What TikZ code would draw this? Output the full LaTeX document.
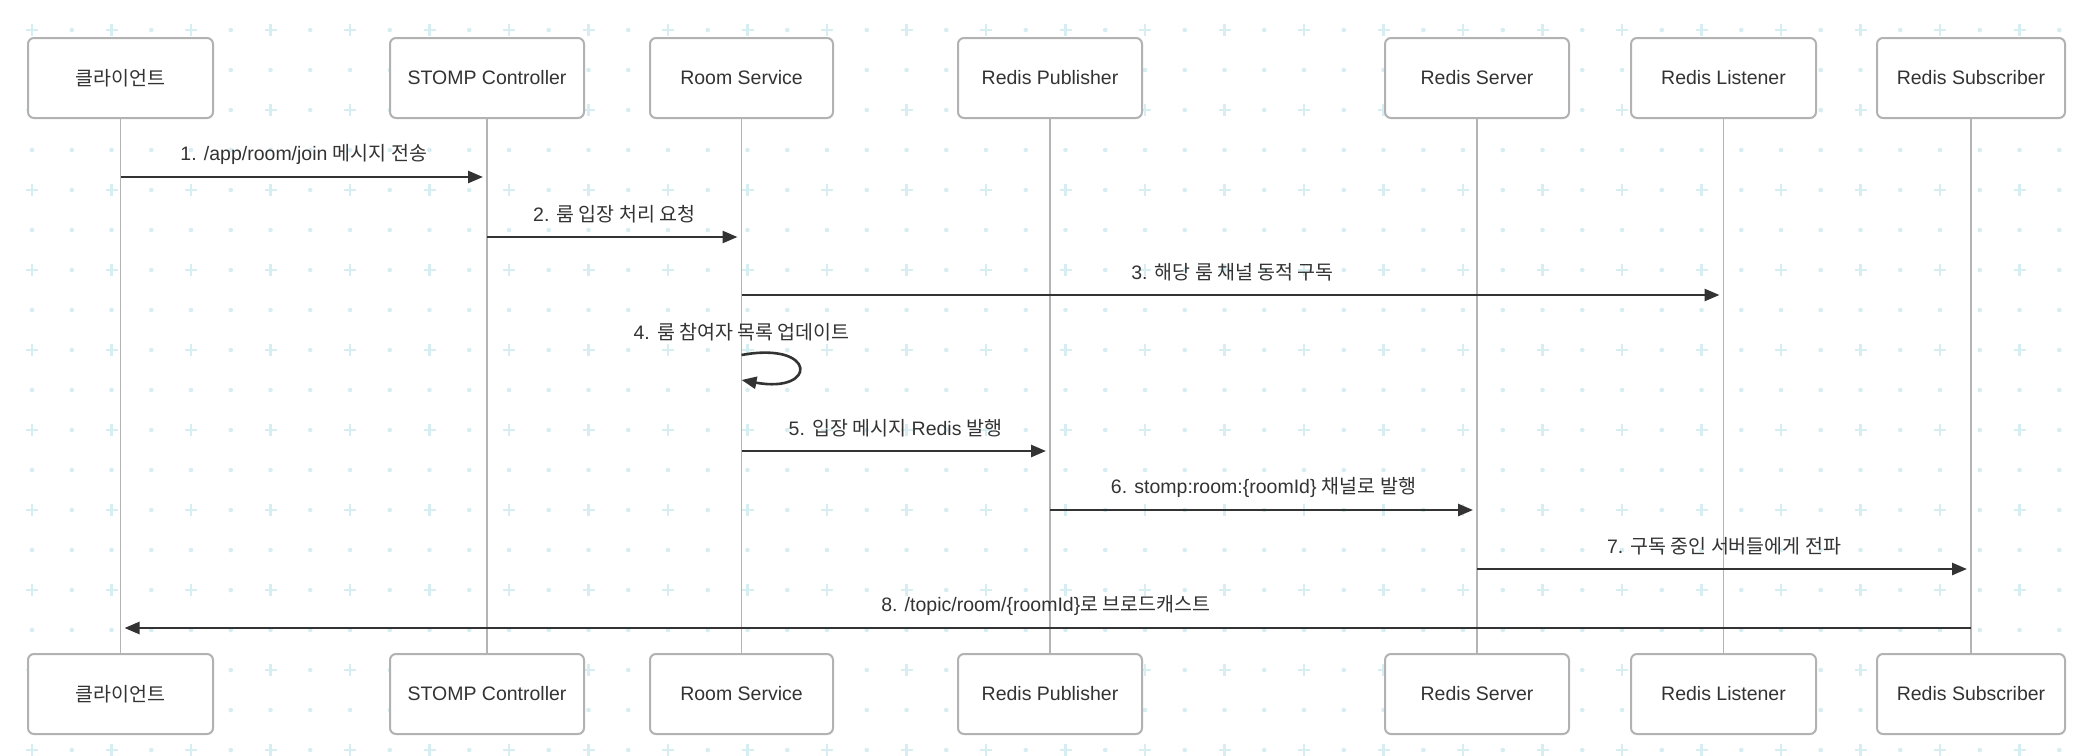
\documentclass[tikz,border=0pt]{standalone}
\usepackage{fontspec}
\setmainfont{Liberation Sans}
\newfontfamily\kr{Noto Sans CJK KR}
\usetikzlibrary{arrows.meta}

\definecolor{gridc}{RGB}{214,238,242}
\definecolor{boxc}{RGB}{178,178,178}
\definecolor{lifec}{RGB}{180,180,180}
\definecolor{txtc}{RGB}{51,51,51}
\newcommand{\ko}[1]{{\kr #1}}

\begin{document}
\begin{tikzpicture}[x=1pt,y=-1pt,
actor/.style={draw=boxc,line width=2pt,fill=white,rounded corners=6pt,minimum height=80pt,inner sep=0pt,font=\fontsize{19.5}{23}\selectfont,text=txtc},
life/.style={draw=lifec,line width=1.6pt},
msg/.style={draw=txtc,line width=2.6pt,-{Triangle[length=15pt,width=12pt]},shorten >=4pt},
lbl/.style={font=\fontsize{19.5}{23}\selectfont,text=txtc,yshift=22.5pt},
plus/.style={draw=gridc,line width=2.6pt}]
\fill[white] (0,0) rectangle (2092,755);
\useasboundingbox (0,0) rectangle (2092,755);

\foreach \j in {0,...,18}{
\foreach \k in {0,...,51}{
\pgfmathsetmacro\gx{32+39.75*\k}
\pgfmathsetmacro\gy{30+40*\j}
\pgfmathtruncatemacro\odd{mod(\j,2)+mod(\k,2)}
\ifnum\odd=0
\draw[plus] (\gx-6,\gy) -- (\gx+6,\gy) (\gx,\gy-6) -- (\gx,\gy+6);
\else
\fill[gridc] (\gx,\gy) circle (2.3);
\fi
}}

\node[actor,minimum width=185pt] (cli) at (120.5,78) {\ko{클라이언트}};
\node[actor,minimum width=194pt] (stomp) at (487,78) {STOMP Controller};
\node[actor,minimum width=183pt] (room) at (741.5,78) {Room Service};
\node[actor,minimum width=184pt] (pub) at (1050,78) {Redis Publisher};
\node[actor,minimum width=184pt] (srv) at (1477,78) {Redis Server};
\node[actor,minimum width=185pt] (lis) at (1723.5,78) {Redis Listener};
\node[actor,minimum width=188pt] (sub) at (1971,78) {Redis Subscriber};

\node[actor,minimum width=185pt] (cliB) at (120.5,694) {\ko{클라이언트}};
\node[actor,minimum width=194pt] (stompB) at (487,694) {STOMP Controller};
\node[actor,minimum width=183pt] (roomB) at (741.5,694) {Room Service};
\node[actor,minimum width=184pt] (pubB) at (1050,694) {Redis Publisher};
\node[actor,minimum width=184pt] (srvB) at (1477,694) {Redis Server};
\node[actor,minimum width=185pt] (lisB) at (1723.5,694) {Redis Listener};
\node[actor,minimum width=188pt] (subB) at (1971,694) {Redis Subscriber};

\foreach \a in {cli,stomp,room,pub,srv,lis,sub}
\draw[life] (\a) -- (\a B);

\draw[msg] (cli.south |- 0,177) -- node[lbl] {1. /app/room/join \ko{메시지 전송}} (stomp.south |- 0,177);
\draw[msg] (stomp.south |- 0,237) -- node[lbl] {2. \ko{룸 입장 처리 요청}} (room.south |- 0,237);
\draw[msg] (room.south |- 0,295) -- node[lbl] {3. \ko{해당 룸 채널 동적 구독}} (lis.south |- 0,295);
\draw[msg,shorten >=0pt] (room.south |- 0,355) node[lbl] {4. \ko{룸 참여자 목록 업데이트}} .. controls +(76,-14) and +(76,14) .. (room.south |- 0,380);
\draw[msg] (room.south |- 0,451) -- node[lbl] {5. \ko{입장 메시지} Redis \ko{발행}} (pub.south |- 0,451);
\draw[msg] (pub.south |- 0,510) -- node[lbl] {6. stomp:room:\{roomId\} \ko{채널로 발행}} (srv.south |- 0,510);
\draw[msg] (srv.south |- 0,569) -- node[lbl] {7. \ko{구독 중인 서버들에게 전파}} (sub.south |- 0,569);
\draw[msg] (sub.south |- 0,628) -- node[lbl] {8. /topic/room/\{roomId\}\ko{로 브로드캐스트}} (cli.south |- 0,628);

\end{tikzpicture}
\end{document}
